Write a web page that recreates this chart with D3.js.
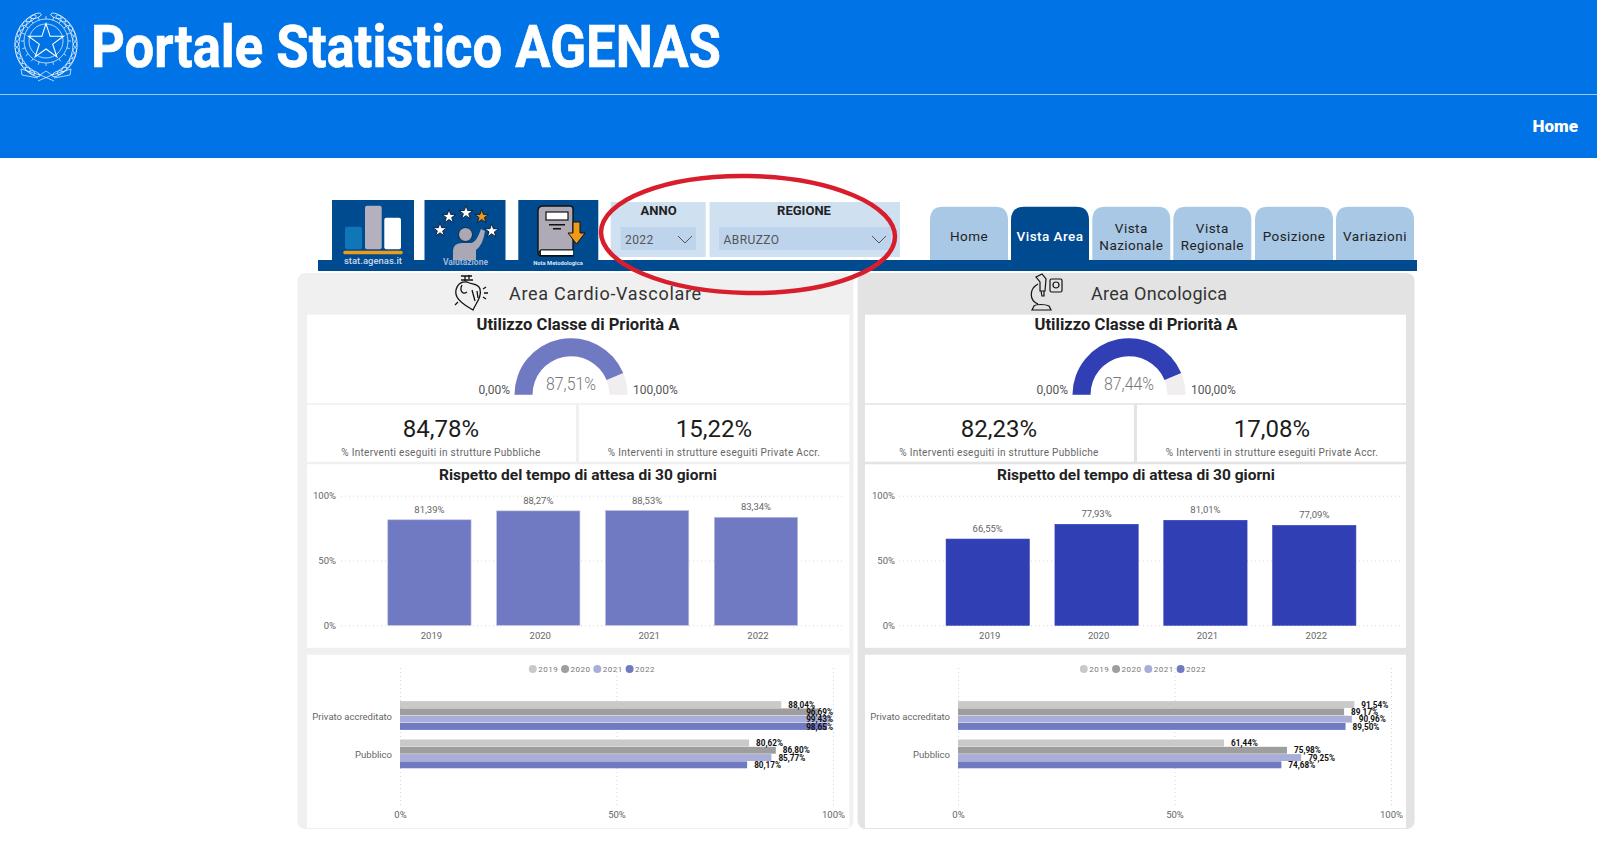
<!DOCTYPE html>
<html>
<head>
<meta charset="utf-8">
<title>Portale Statistico AGENAS</title>
<script src="https://cdn.jsdelivr.net/npm/d3@7"></script>
<style>
  html, body { margin: 0; padding: 0; background: #fff; overflow: hidden; }
  svg { display: block; }
  text { font-family: Roboto, "Noto Sans", sans-serif; }
  .tick line { stroke: #d4d4d4; stroke-dasharray: 1 3; }
  .tick text { fill: #666; font-size: 9.5px; }
</style>
</head>
<body>
<div id="chart"></div>
<script>
// data
const years = ['2019', '2020', '2021', '2022'];
const groups = ['Privato accreditato', 'Pubblico'];
const barTicks = [0, 50, 100];

const cardioGauge = 87.51;
const oncoGauge = 87.44;
const cardioKpi = [84.78, 15.22];
const oncoKpi = [82.23, 17.08];
const cardioWait = [81.39, 88.27, 88.53, 83.34];
const oncoWait = [66.55, 77.93, 81.01, 77.09];
const cardioPrivate = [88.04, 96.69, 99.43, 98.65];
const cardioPublic = [80.62, 86.80, 85.77, 80.17];
const oncoPrivate = [91.54, 89.17, 90.96, 89.50];
const oncoPublic = [61.44, 75.98, 79.25, 74.68];

const tabs = [['Home'], ['Vista Area'], ['Vista', 'Nazionale'], ['Vista', 'Regionale'], ['Posizione'], ['Variazioni']];
const tabStarts = [930, 1011, 1092.3, 1173.3, 1255, 1336];
const kpiLabels = ['% Interventi eseguiti in strutture Pubbliche', '% Interventi in strutture eseguiti Private Accr.'];

const yearColors = ['#c9c9c9', '#9e9e9e', '#a9aed8', '#6f7ac2'];
const darkBlue = '#004a8f';

const fmt = v => v.toFixed(2).replace('.', ',') + '%';

const svg = d3.select('#chart').append('svg')
    .attr('width', 1597)
    .attr('height', 859);

function label(parent, x, y, str, size, opts = {}) {
    return parent.append('text')
        .attr('x', x)
        .attr('y', y)
        .attr('text-anchor', opts.anchor || 'middle')
        .attr('dominant-baseline', 'central')
        .attr('font-size', size)
        .attr('font-weight', opts.weight || 400)
        .attr('letter-spacing', opts.spacing || 0)
        .attr('fill', opts.fill || '#222')
        .text(str);
}

function rect(parent, x, y, w, h, fill, r = 0) {
    return parent.append('rect')
        .attr('x', x).attr('y', y)
        .attr('width', w).attr('height', h)
        .attr('rx', r).attr('fill', fill);
}

// page header
rect(svg, 0, 0, 1597, 158, '#0073e6');
rect(svg, 0, 94, 1597, 1, '#9cc8f5');
svg.append('text')
    .attr('x', 91)
    .attr('y', 67)
    .attr('font-size', 60)
    .attr('font-weight', 700)
    .attr('fill', '#fff')
    .attr('stroke', '#fff')
    .attr('stroke-width', 0.7)
    .attr('textLength', 630)
    .attr('lengthAdjust', 'spacingAndGlyphs')
    .text('Portale Statistico AGENAS');
label(svg, 1578, 126, 'Home', 17, { anchor: 'end', weight: 900, fill: '#fff' });

// emblem
const emblem = svg.append('g')
    .attr('transform', 'translate(46,45)')
    .attr('fill', 'none')
    .attr('stroke', '#fff')
    .attr('stroke-width', 0.7);
emblem.append('circle').attr('r', 22).attr('cy', -4);
emblem.append('circle').attr('r', 17).attr('cy', -4);
d3.range(20).forEach(i => {
    const a = (i / 20) * 2 * Math.PI;
    emblem.append('line')
        .attr('x1', Math.cos(a) * 22).attr('y1', Math.sin(a) * 22 - 4)
        .attr('x2', Math.cos(a) * 25).attr('y2', Math.sin(a) * 25 - 4);
});
emblem.append('path')
    .attr('transform', 'translate(0,-3)')
    .attr('stroke-width', 1.1)
    .attr('d', d3.symbol(d3.symbolStar, 380)());
d3.range(14).forEach(i => {
    const a = (i / 13) * 2.4 + 0.35;
    [-1, 1].forEach(side => {
        emblem.append('ellipse')
            .attr('rx', 2.2).attr('ry', 5.5)
            .attr('transform', `translate(${side * Math.sin(a) * 29},${-Math.cos(a) * 31}) rotate(${side * (a * 57 + 90)})`);
    });
});
emblem.append('path').attr('d', 'M-25,24 L-6,30 L0,26 L6,30 L25,24 L24,30 L8,33 M-25,24 L-24,30 L-8,33 M-8,36 L8,29 M8,36 L-8,29');

// tool tiles
rect(svg, 332, 200, 82, 60, darkBlue);
rect(svg, 424.5, 200, 81, 60, darkBlue);
rect(svg, 518.3, 200, 80, 60, darkBlue);
rect(svg, 318, 260, 1099, 11, darkBlue);

rect(svg, 345, 226.7, 17, 22.6, '#0f76b8', 2);
rect(svg, 365, 205.7, 16.7, 43.6, '#b4b0bd', 2);
rect(svg, 384.3, 217.7, 16.7, 31.6, '#fff', 2);
rect(svg, 343.3, 250.7, 59.4, 3.6, '#f09a1a', 1.5);
label(svg, 373, 260.5, 'stat.agenas.it', 9.5, { fill: '#c9d8ea', weight: 500 });

const starAt = (x, y, fill) => svg.append('path')
    .attr('transform', `translate(${x},${y})`)
    .attr('d', d3.symbol(d3.symbolStar, 62)())
    .attr('fill', fill)
    .attr('stroke', '#10233f')
    .attr('stroke-width', 1);
starAt(449, 216.7, '#fff');
starAt(466, 212.8, '#fff');
starAt(481.7, 216.7, '#f09a1a');
starAt(440, 230, '#fff');
starAt(491.7, 231, '#fff');
svg.append('circle').attr('cx', 465.5).attr('cy', 234.5).attr('r', 7).attr('fill', '#aaa8b5').attr('stroke', '#10233f');
svg.append('path')
    .attr('d', 'M453,260 L453,250 Q454,243 462,243 L472,243 Q477,241 481,229 L485,231 Q483,245 476,250 L476,260 Z')
    .attr('fill', '#aaa8b5');
label(svg, 465.5, 262, 'Valutazione', 8.5, { fill: '#9fb6d3', weight: 700 });

svg.append('path')
    .attr('d', 'M543,206 L570,206 Q573,206 573,209 L573,250 L541,250 Q538,252 541,255 L573,255 L573,256 L541,256 Q538,256 538,252 L538,211 Q538,206 543,206 Z')
    .attr('fill', '#aeaab6').attr('stroke', '#111').attr('stroke-width', 1.4);
rect(svg, 541, 250.5, 32, 4.5, '#fff');
rect(svg, 546, 212, 22, 8, '#fff').attr('stroke', '#111').attr('stroke-width', 1.2);
rect(svg, 549, 224, 16, 1.5, '#111');
rect(svg, 553, 228, 8, 1.5, '#111');
svg.append('path')
    .attr('d', 'M573,222 L580,222 L580,233 L585,233 L576.5,244 L568,233 L573,233 Z')
    .attr('fill', '#f09a1a').attr('stroke', '#111').attr('stroke-width', 1);
label(svg, 558, 262.5, 'Nota Metodologica', 5.8, { fill: '#dbe5f1', weight: 700 });

// slicers
rect(svg, 610.7, 202, 95, 55, '#cfe0f1');
rect(svg, 709.5, 202, 190.5, 55, '#cfe0f1');
rect(svg, 620.7, 227, 75.3, 23, '#bdd4ec');
rect(svg, 719, 227, 172, 23, '#bdd4ec');
label(svg, 658.6, 210, 'ANNO', 13, { weight: 700 });
label(svg, 804, 210, 'REGIONE', 13, { weight: 700 });
label(svg, 625, 240, '2022', 12, { anchor: 'start', fill: '#555', spacing: .4 });
label(svg, 723.6, 240, 'ABRUZZO', 12, { anchor: 'start', fill: '#555', spacing: .4 });
[685, 879].forEach(x => {
    svg.append('path')
        .attr('d', `M${x - 7},236 L${x},243 L${x + 7},236`)
        .attr('fill', 'none').attr('stroke', '#555').attr('stroke-width', 1);
});

// tabs
tabs.forEach((lines, i) => {
    const x = tabStarts[i];
    const active = i === 1;
    svg.append('path')
        .attr('d', `M${x},260 L${x},220 Q${x},206.7 ${x + 13},206.7 L${x + 65},206.7 Q${x + 78},206.7 ${x + 78},220 L${x + 78},260 Z`)
        .attr('fill', active ? darkBlue : '#a9c8e6');
    lines.forEach((l, j) => {
        const y = lines.length === 1 ? 236 : 228 + j * 17;
        label(svg, x + 39, y, l, 13.5, { fill: active ? '#fff' : '#222', weight: active ? 500 : 400, spacing: .45 });
    });
});

function heartIcon(g) {
    const p = g.append('g').attr('fill', 'none').attr('stroke', '#111').attr('stroke-width', 1.3);
    p.append('path').attr('d', 'M-5,-12 L-5,-17 M-1,-14 L-1,-18 M-9,-17 L2,-17 M-9,-13 L3,-13');
    p.append('path').attr('d', 'M-3,-11 C-13,-12 -16,-2 -13,4 C-10,10 -2,14 3,17 C6,10 12,4 10,-4 C8,-10 2,-8 -3,-11 Z');
    p.append('path').attr('d', 'M-8,-8 C-11,-2 -7,2 -3,-1 M2,-3 L5,8 M7,-2 L8,5');
    p.append('path').attr('d', 'M13,-4 L16,-6 M14,0 L18,0 M13,4 L16,6 M-12,9 L-15,12');
}

function scopeIcon(g) {
    const p = g.append('g').attr('fill', 'none').attr('stroke', '#111').attr('stroke-width', 1.2);
    p.append('path').attr('d', 'M-9,-9 C-18,-4 -18,7 -9,11 M-15,17 L4,17 L2,13 C-2,11 -11,11 -13,13 Z');
    p.append('path').attr('d', 'M-11,-16 L-5,-19 L-1,-14 L-2,-2 L-7,-2 L-7,-11 Z M-6,-2 L-5,3 L-3,3 L-3,-2');
    rect(p, 3, -14, 12, 13, 'none', 1.5);
    p.append('circle').attr('cx', 9).attr('cy', -8).attr('r', 3);
}

function drawPanel(dx, cfg) {
    const g = svg.append('g').attr('transform', `translate(${dx},0)`);
    const cardW = cfg.cardW;

    rect(g, cfg.panelX, 273, cfg.panelW, 556, cfg.panelFill, 8);
    rect(g, 307, 314.7, cardW, 88.5, '#fff');
    rect(g, 307, 404.7, 269, 57, '#fff');
    rect(g, 579, 404.7, cardW - 272, 57, '#fff');
    rect(g, 307, 464.3, cardW, 183.5, '#fff');
    rect(g, 307, 654.7, cardW, 173.3, '#fff');

    // area heading
    cfg.icon(g.append('g').attr('transform', `translate(${cfg.iconX},293)`));
    label(g, cfg.headingX, 293, cfg.heading, 18, { anchor: 'start', spacing: cfg.headingSpacing, fill: '#333' });

    // gauge
    label(g, 578, 324, 'Utilizzo Classe di Priorità A', 16.6, { weight: 700 });
    const angle = d3.scaleLinear().domain([0, 100]).range([-Math.PI / 2, Math.PI / 2]);
    const arc = d3.arc().innerRadius(38.5).outerRadius(56.5);
    const gauge = g.append('g').attr('transform', 'translate(571,394.7)');
    gauge.append('path')
        .attr('d', arc({ startAngle: angle(0), endAngle: angle(100) }))
        .attr('fill', '#f0eeee');
    gauge.append('path')
        .attr('d', arc({ startAngle: angle(0), endAngle: angle(cfg.gauge) }))
        .attr('fill', cfg.color);
    label(g, 571, 383.5, fmt(cfg.gauge), 18.5, { fill: '#777', weight: 300 })
        .attr('textLength', 50)
        .attr('lengthAdjust', 'spacingAndGlyphs');
    label(g, 510, 389.5, '0,00%', 12, { anchor: 'end', fill: '#555' });
    label(g, 633, 389.5, '100,00%', 12, { anchor: 'start', fill: '#555' });

    // kpi cards
    label(g, 441, 428.5, fmt(cfg.kpi[0]), 24, { fill: '#1c1c1c' });
    label(g, 441, 452, kpiLabels[0], 10, { fill: '#666', spacing: .3 });
    label(g, 714, 428.5, fmt(cfg.kpi[1]), 24, { fill: '#1c1c1c' });
    label(g, 714, 452, kpiLabels[1], 10, { fill: '#666', spacing: .3 });

    // waiting time columns
    label(g, 578, 474.5, 'Rispetto del tempo di attesa di 30 giorni', 15.5, { weight: 700 });

    const x = d3.scaleBand().domain(years).range([362.2 + cfg.barShift, 823.2 + cfg.barShift]).padding(0.235);
    const y = d3.scaleLinear().domain([0, 100]).range([625.3, 495.7]);

    const yAxis = g.append('g')
        .attr('transform', 'translate(341,0)')
        .call(d3.axisLeft(y).tickValues(barTicks).tickFormat(d => d + '%').tickSize(-502).tickPadding(cfg.tickPad));
    yAxis.select('.domain').remove();
    yAxis.selectAll('text').attr('dy', '0.32em');

    const xAxis = g.append('g')
        .attr('transform', 'translate(2,625.3)')
        .call(d3.axisBottom(x).tickSize(0).tickPadding(7));
    xAxis.select('.domain').remove();

    g.selectAll('.bar')
        .data(cfg.wait)
        .enter().append('rect')
        .attr('class', 'bar')
        .attr('x', (d, i) => x(years[i]))
        .attr('y', d => y(d))
        .attr('width', x.bandwidth())
        .attr('height', d => y(0) - y(d))
        .attr('fill', cfg.color)
        .attr('stroke', cfg.barEdge)
        .attr('stroke-width', 0.6);

    g.selectAll('.bar-label')
        .data(cfg.wait)
        .enter().append('text')
        .attr('class', 'bar-label')
        .attr('x', (d, i) => x(years[i]) + x.bandwidth() / 2)
        .attr('y', d => y(d) - 10.5)
        .attr('text-anchor', 'middle')
        .attr('dominant-baseline', 'central')
        .attr('font-size', 9.5)
        .attr('fill', '#666')
        .text(fmt);

    // legend
    const legend = d3.scalePoint().domain(years).range([532.8 + cfg.legendShift, 629.6 + cfg.legendShift]);
    years.forEach((yr, i) => {
        g.append('circle')
            .attr('cx', legend(yr)).attr('cy', 669).attr('r', 4)
            .attr('fill', yearColors[i]);
        label(g, legend(yr) + 5.5, 669, yr, 8, { anchor: 'start', fill: '#777', spacing: .5 });
    });

    // private / public bars
    const hx = d3.scaleLinear().domain([0, 100]).range([400, 833]);
    const hy = d3.scaleBand().domain(groups).range([691.9, 777.9]).padding(0.24);
    const hyYear = d3.scaleBand().domain(years).range([0, hy.bandwidth()]);

    const hxAxis = g.append('g')
        .attr('transform', 'translate(0,805)')
        .call(d3.axisBottom(hx).tickValues(barTicks).tickFormat(d => d + '%').tickSize(-138).tickPadding(6));
    hxAxis.select('.domain').remove();

    const hyAxis = g.append('g')
        .attr('transform', 'translate(400,1)')
        .call(d3.axisLeft(hy).tickSize(0).tickPadding(8));
    hyAxis.select('.domain').remove();

    const labelW = 27;
    [cfg.priv, cfg.pub].forEach((vals, k) => {
        vals.forEach((v, i) => {
            rect(g, hx(0), hy(groups[k]) + hyYear(years[i]), hx(v) - hx(0), hyYear.bandwidth() - 0.4, yearColors[i]);
        });
        vals.forEach((v, i) => {
            const clipped = hx(v) + 7 + labelW > hx(100);
            label(g, clipped ? hx(100) : hx(v) + 7,
                hy(groups[k]) + hyYear(years[i]) + hyYear.bandwidth() / 2,
                fmt(v), 8.2, { anchor: clipped ? 'end' : 'start', fill: '#111', weight: 700 });
        });
    });
}

drawPanel(0, {
    panelX: 297.4, panelW: 556, panelFill: '#f0f0f0', cardW: 542.4,
    icon: heartIcon, iconX: 470, heading: 'Area Cardio-Vascolare', headingX: 509, headingSpacing: .7,
    color: '#6f7ac2', barEdge: '#b9bee2', barShift: 0, legendShift: 0, tickPad: 5,
    gauge: cardioGauge, kpi: cardioKpi, wait: cardioWait, priv: cardioPrivate, pub: cardioPublic
});
drawPanel(558, {
    panelX: 299.6, panelW: 557, panelFill: '#e3e3e3', cardW: 541,
    icon: scopeIcon, iconX: 489, heading: 'Area Oncologica', headingX: 533, headingSpacing: .3,
    color: '#303fb4', barEdge: '#303fb4', barShift: 0.3, legendShift: -7, tickPad: 4,
    gauge: oncoGauge, kpi: oncoKpi, wait: oncoWait, priv: oncoPrivate, pub: oncoPublic
});

// red highlight drawn over the slicers
svg.append('ellipse')
    .attr('cx', 748)
    .attr('cy', 234.5)
    .attr('rx', 147)
    .attr('ry', 58.5)
    .attr('transform', 'rotate(1 748 234)')
    .attr('fill', 'none')
    .attr('stroke', '#d81e2c')
    .attr('stroke-width', 4.5);
</script>
</body>
</html>
